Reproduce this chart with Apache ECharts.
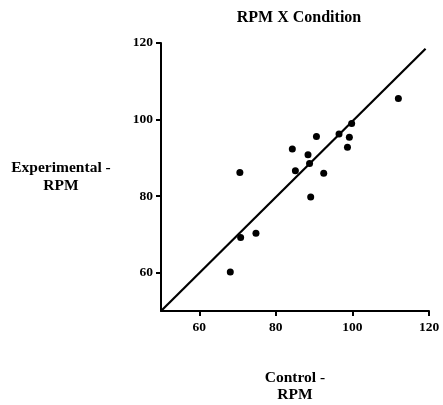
<!DOCTYPE html>
<html>
<head>
<meta charset="utf-8">
<script src="https://cdn.jsdelivr.net/npm/echarts@6/dist/echarts.min.js"></script>
<style>
  html, body { margin: 0; padding: 0; background: #fff; }
  #main { width: 443px; height: 405px; }
</style>
</head>
<body>
<div id="main"></div>
<script>
// control RPM vs experimental RPM
var controlRpm = [112.0, 99.8, 96.5, 99.2, 98.7, 90.6, 84.3, 88.4, 88.8, 85.1, 92.5, 70.6, 89.1, 74.8, 70.8, 68.1];
var experimentalRpm = [105.5, 99.0, 96.2, 95.4, 92.8, 95.6, 92.3, 90.8, 88.5, 86.6, 86.0, 86.2, 79.8, 70.3, 69.2, 60.2];
// fitted line end points
var lineX = [50, 119.1];
var lineY = [50, 118.5];
var tickVals = [60, 80, 100, 120];

var myChart = echarts.init(document.getElementById('main'));

var points = [];
for (var i = 0; i < controlRpm.length; i++) {
    points.push([controlRpm[i], experimentalRpm[i]]);
}
var linePts = [];
for (var j = 0; j < lineX.length; j++) {
    linePts.push([lineX[j], lineY[j]]);
}

var font = 'Liberation Serif';

var option = {
    animation: false,
    title: {
        text: 'RPM X Condition',
        left: 294,
        top: 5,
        textAlign: 'center',
        textStyle: { fontFamily: font, fontWeight: 'bold', fontSize: 16, color: '#000' }
    },
    grid: { left: 161, right: 14, top: 43, bottom: 94, outerBoundsMode: 'none', containLabel: false },
    xAxis: {
        type: 'value',
        min: 50, max: 120,
        interval: 10,
        name: 'Control -\nRPM',
        nameLocation: 'middle',
        nameGap: 58,
        nameTextStyle: { fontFamily: font, fontWeight: 'bold', fontSize: 15.5, color: '#000', lineHeight: 17 },
        splitLine: { show: false },
        axisLine: { lineStyle: { color: '#000', width: 2 } },
        axisTick: {
            length: 5,
            lineStyle: { width: 2 },
            customValues: tickVals
        },
        axisLabel: {
            customValues: tickVals,
            fontFamily: font, fontWeight: 'bold', fontSize: 13.5, color: '#000', margin: 10
        }
    },
    yAxis: {
        type: 'value',
        min: 50, max: 120,
        interval: 10,
        name: 'Experimental -\nRPM',
        nameLocation: 'middle',
        nameGap: 100,
        nameRotate: 0,
        nameTextStyle: { fontFamily: font, fontWeight: 'bold', fontSize: 15.5, color: '#000', lineHeight: 18, align: 'center' },
        splitLine: { show: false },
        axisLine: { lineStyle: { color: '#000', width: 2 } },
        axisTick: {
            length: 5,
            lineStyle: { width: 2 },
            customValues: tickVals
        },
        axisLabel: {
            customValues: tickVals,
            fontFamily: font, fontWeight: 'bold', fontSize: 13.5, color: '#000', margin: 8
        }
    },
    series: [
        {
            type: 'line',
            data: linePts,
            symbol: 'none',
            lineStyle: { color: '#000', width: 2.2 }
        },
        {
            type: 'scatter',
            data: points,
            symbolSize: 7,
            itemStyle: { color: '#000', opacity: 1 }
        }
    ]
};

myChart.setOption(option);
</script>
</body>
</html>
